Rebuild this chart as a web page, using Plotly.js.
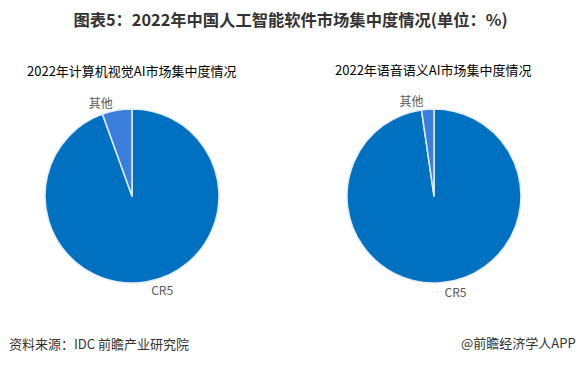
<!DOCTYPE html>
<html>
<head>
<meta charset="utf-8">
<script src="https://cdn.plot.ly/plotly-3.0.1.min.js"></script>
<style>html,body{margin:0;padding:0;background:#fff;}#chart{width:581px;height:365px;}</style>
</head>
<body>
<div id="chart"></div>
<script>
const labels = ["CR5", "其他"];
const visionValues = [94.5, 5.5];
const speechValues = [97.7, 2.3];
const subtitles = ["2022年计算机视觉AI市场集中度情况", "2022年语音语义AI市场集中度情况"];
const mainTitle = "图表5：2022年中国人工智能软件市场集中度情况(单位：%)";
const sourceText = "资料来源：IDC 前瞻产业研究院";
const brandText = "@前瞻经济学人APP";

const font = '"Microsoft YaHei","Noto Sans CJK SC",sans-serif';
const sliceColors = ["#0070C0", "#3B7DDB"];

function pieTrace(values, xdom) {
  return {
    type: "pie",
    labels: labels,
    values: values,
    sort: false,
    direction: "clockwise",
    rotation: 0,
    textinfo: "label",
    textposition: "outside",
    outsidetextfont: {family: font, size: 12, color: "#595959"},
    marker: {colors: sliceColors, line: {color: "#E3ECF7", width: 1.5}},
    domain: {x: xdom, y: [82/365, 256/365]},
    hoverinfo: "label+value",
    showlegend: false,
    automargin: false
  };
}

const data = [
  pieTrace(visionValues, [45/581, 219/581]),
  pieTrace(speechValues, [347/581, 521/581])
];

const layout = {
  width: 581, height: 365,
  margin: {l: 0, r: 0, t: 0, b: 0},
  paper_bgcolor: "#fff",
  font: {family: font},
  showlegend: false,
  title: {text: "<b>" + mainTitle + "</b>", x: 0.5, xanchor: "center", y: 1 - 20/365, yanchor: "middle",
          font: {family: font, size: 16.3, color: "#333333"}},
  annotations: [
    {text: subtitles[0], x: 132/581, y: 1 - 70/365, xref: "paper", yref: "paper", showarrow: false,
     xanchor: "center", yanchor: "middle", font: {family: font, size: 13, color: "#000"}},
    {text: subtitles[1], x: 433/581, y: 1 - 69/365, xref: "paper", yref: "paper", showarrow: false,
     xanchor: "center", yanchor: "middle", font: {family: font, size: 13, color: "#000"}},
    {text: sourceText, x: 7/581, y: 1 - 343/365, xref: "paper", yref: "paper", showarrow: false,
     xanchor: "left", yanchor: "middle", font: {family: font, size: 13, color: "#333333"}},
    {text: brandText, x: 578/581, y: 1 - 342/365, xref: "paper", yref: "paper", showarrow: false,
     xanchor: "right", yanchor: "middle", font: {family: font, size: 13, color: "#333333"}}
  ]
};

Plotly.newPlot("chart", data, layout, {staticPlot: true, displayModeBar: false});
</script>
</body>
</html>
